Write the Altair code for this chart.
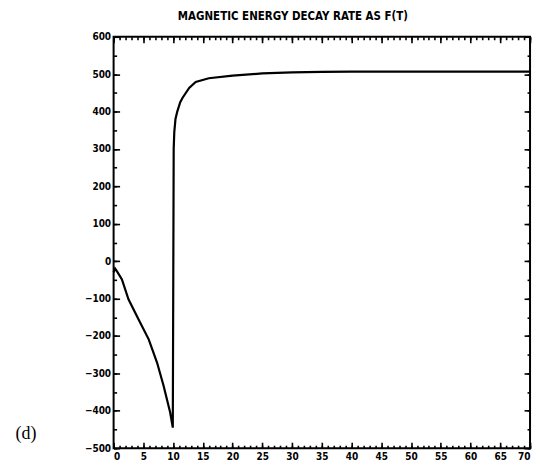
import altair as alt
import pandas as pd

# Curve
t_vals = [0, 0.25, 0.6, 1.4, 2.5, 4.2, 5.9, 7.3, 8.4, 9.5, 9.95, 10.1, 10.2, 10.4,
          10.7, 11.2, 11.6, 12.7, 13.8, 16, 20, 25, 30, 35, 40, 50, 60, 70]
v_vals = [-30, -20, -28, -49, -102, -156, -209, -271, -333, -404, -445, 300, 345, 380,
          400, 425, 437, 463, 479, 489, 496, 502, 505, 506, 507, 507, 507, 507]

x_major = list(range(0, 71, 5))
x_minor = list(range(0, 71, 1))
y_major = list(range(-500, 601, 100))
y_minor = list(range(-500, 601, 50))

title_text = "MAGNETIC ENERGY DECAY  RATE AS F(T)"
panel_label = "(d)"

df = pd.DataFrame({"t": t_vals, "v": v_vals})

W, H = 418, 413
LABEL_FONT = "DejaVu Sans Condensed, DejaVu Sans"
xs = alt.Scale(domain=[0, 70], nice=False, zero=False)
ys = alt.Scale(domain=[-500, 600], nice=False, zero=False)


def ax(orient, values, size, labels=False, **kw):
    return alt.Axis(orient=orient, values=values, tickSize=size, offset=-size,
                    domain=False, grid=False, labels=labels, ticks=True,
                    tickColor="black", tickWidth=1.6, title=kw.pop("title", None) or "",
                    labelFont=LABEL_FONT, labelFontWeight="bold", labelFontSize=10,
                    labelColor="black", labelPadding=3, **kw)


base = alt.Chart(df)

line = base.mark_line(color="black", strokeWidth=2.2).encode(
    x=alt.X("t:Q", scale=xs, axis=ax("bottom", x_major, 6, labels=True)),
    y=alt.Y("v:Q", scale=ys, axis=ax("left", y_major, 6, labels=True,
                                     title=panel_label, titleAngle=0,
                                     titleFont="Liberation Serif", titleFontSize=18,
                                     titleFontWeight="normal", titleAlign="left",
                                     titleBaseline="middle", titleX=-105, titleY=398,
                                     titleColor="black")),
)


def ghost(xaxis, yaxis):
    return base.mark_point(opacity=0).encode(
        x=alt.X("t:Q", scale=xs, axis=xaxis),
        y=alt.Y("v:Q", scale=ys, axis=yaxis),
    )


l2 = ghost(ax("bottom", x_minor, 3), ax("left", y_minor, 3))
l3 = ghost(ax("top", x_major, 6), ax("right", y_major, 6))
l4 = ghost(ax("top", x_minor, 3), ax("right", y_minor, 3))

chart = alt.layer(line, l2, l3, l4).resolve_axis(
    x="independent", y="independent"
).properties(
    width=W, height=H,
    title=alt.TitleParams(title_text, font=LABEL_FONT, fontSize=11.5, fontWeight="bold",
                          color="black", anchor="middle", dx=-29, offset=9),
    padding={"left": 7, "top": 2, "right": 5, "bottom": 5},
).configure_view(stroke="black", strokeWidth=2)

chart.save("out.html", embed_options={"renderer": "svg", "actions": False})
